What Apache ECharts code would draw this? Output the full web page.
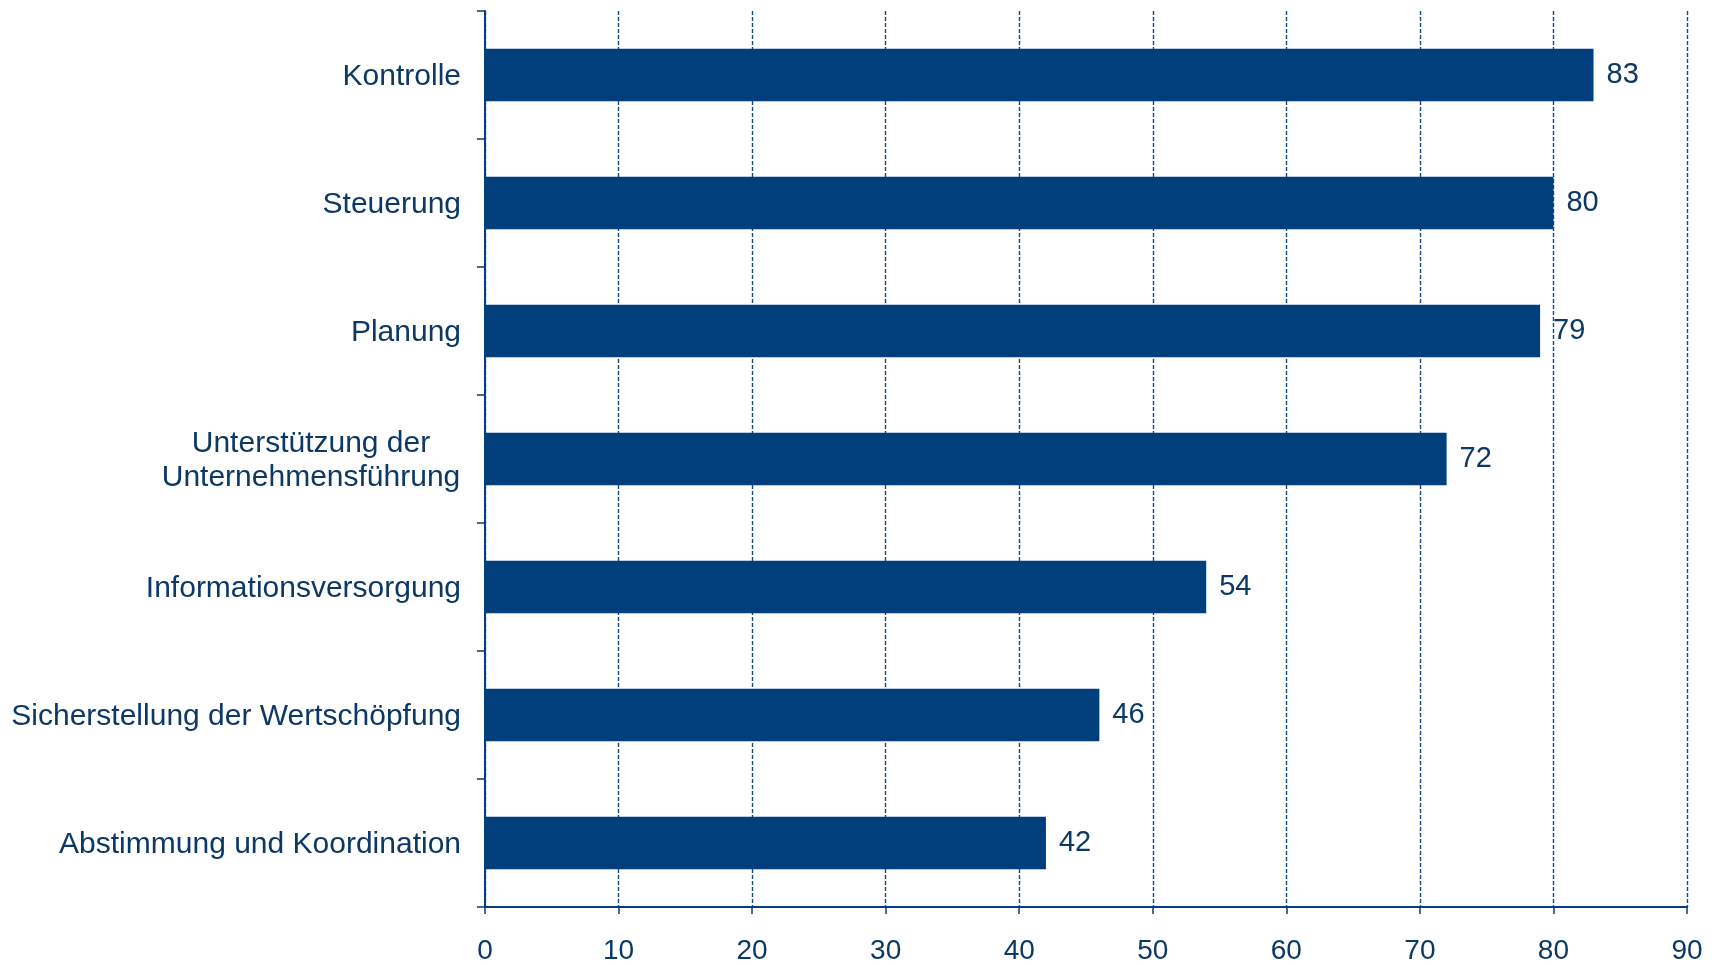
<!DOCTYPE html>
<html>
<head>
<meta charset="utf-8">
<script src="https://cdn.jsdelivr.net/npm/echarts@6/dist/echarts.min.js"></script>
<style>
html,body{margin:0;padding:0;background:#fff;}
#chart{width:1718px;height:965px;}
</style>
</head>
<body>
<div id="chart"></div>
<script>
const categories = [
  "Kontrolle",
  "Steuerung",
  "Planung",
  "Unterstützung der\nUnternehmensführung",
  "Informationsversorgung",
  "Sicherstellung der Wertschöpfung",
  "Abstimmung und Koordination"
];
const values = [83, 80, 79, 72, 54, 46, 42];
const xTicks = [0, 10, 20, 30, 40, 50, 60, 70, 80, 90];

const navy = '#003e7c';
const textColor = '#0c3866';
const font = '"Liberation Sans", Arial, sans-serif';

const chart = echarts.init(document.getElementById('chart'), null, {renderer: 'canvas'});
chart.setOption({
  backgroundColor: '#ffffff',
  animation: false,
  grid: {left: 485, right: 31, top: 11, bottom: 56, containLabel: false},
  xAxis: {
    type: 'value',
    min: xTicks[0],
    max: xTicks[xTicks.length - 1],
    interval: 10,
    axisLine: {show: true, onZero: false, lineStyle: {color: navy, width: 2}},
    axisTick: {show: true, length: 7, lineStyle: {color: navy, width: 1.5}},
    axisLabel: {margin: 30, fontSize: 28, color: textColor, fontFamily: font},
    splitLine: {show: true, lineStyle: {color: '#134a82', width: 1.4, type: [4, 2]}}
  },
  yAxis: {
    type: 'category',
    data: categories,
    inverse: true,
    axisLine: {show: true, lineStyle: {color: navy, width: 2}},
    axisTick: {show: true, length: 8, alignWithLabel: false, lineStyle: {color: navy, width: 1.5}},
    axisLabel: {
      margin: 24,
      fontSize: 30,
      color: textColor,
      fontFamily: font,
      lineHeight: 34,
      padding: [3, 0, 0, 0],
      formatter: function (v) {
        if (v.indexOf('\n') >= 0) {
          return v.split('\n').map(s => '{c|' + s + '}').join('\n');
        }
        return v;
      },
      rich: {
        c: {width: 300, align: 'center', fontSize: 30, color: textColor, fontFamily: font, lineHeight: 34}
      }
    },
    splitLine: {show: false}
  },
  series: [{
    type: 'bar',
    data: values,
    barWidth: '41%',
    itemStyle: {color: navy},
    label: {
      show: true,
      position: 'right',
      distance: 13,
      fontSize: 29,
      color: textColor,
      fontFamily: font,
      padding: [4, 0, 0, 0]
    }
  }]
});
</script>
</body>
</html>
